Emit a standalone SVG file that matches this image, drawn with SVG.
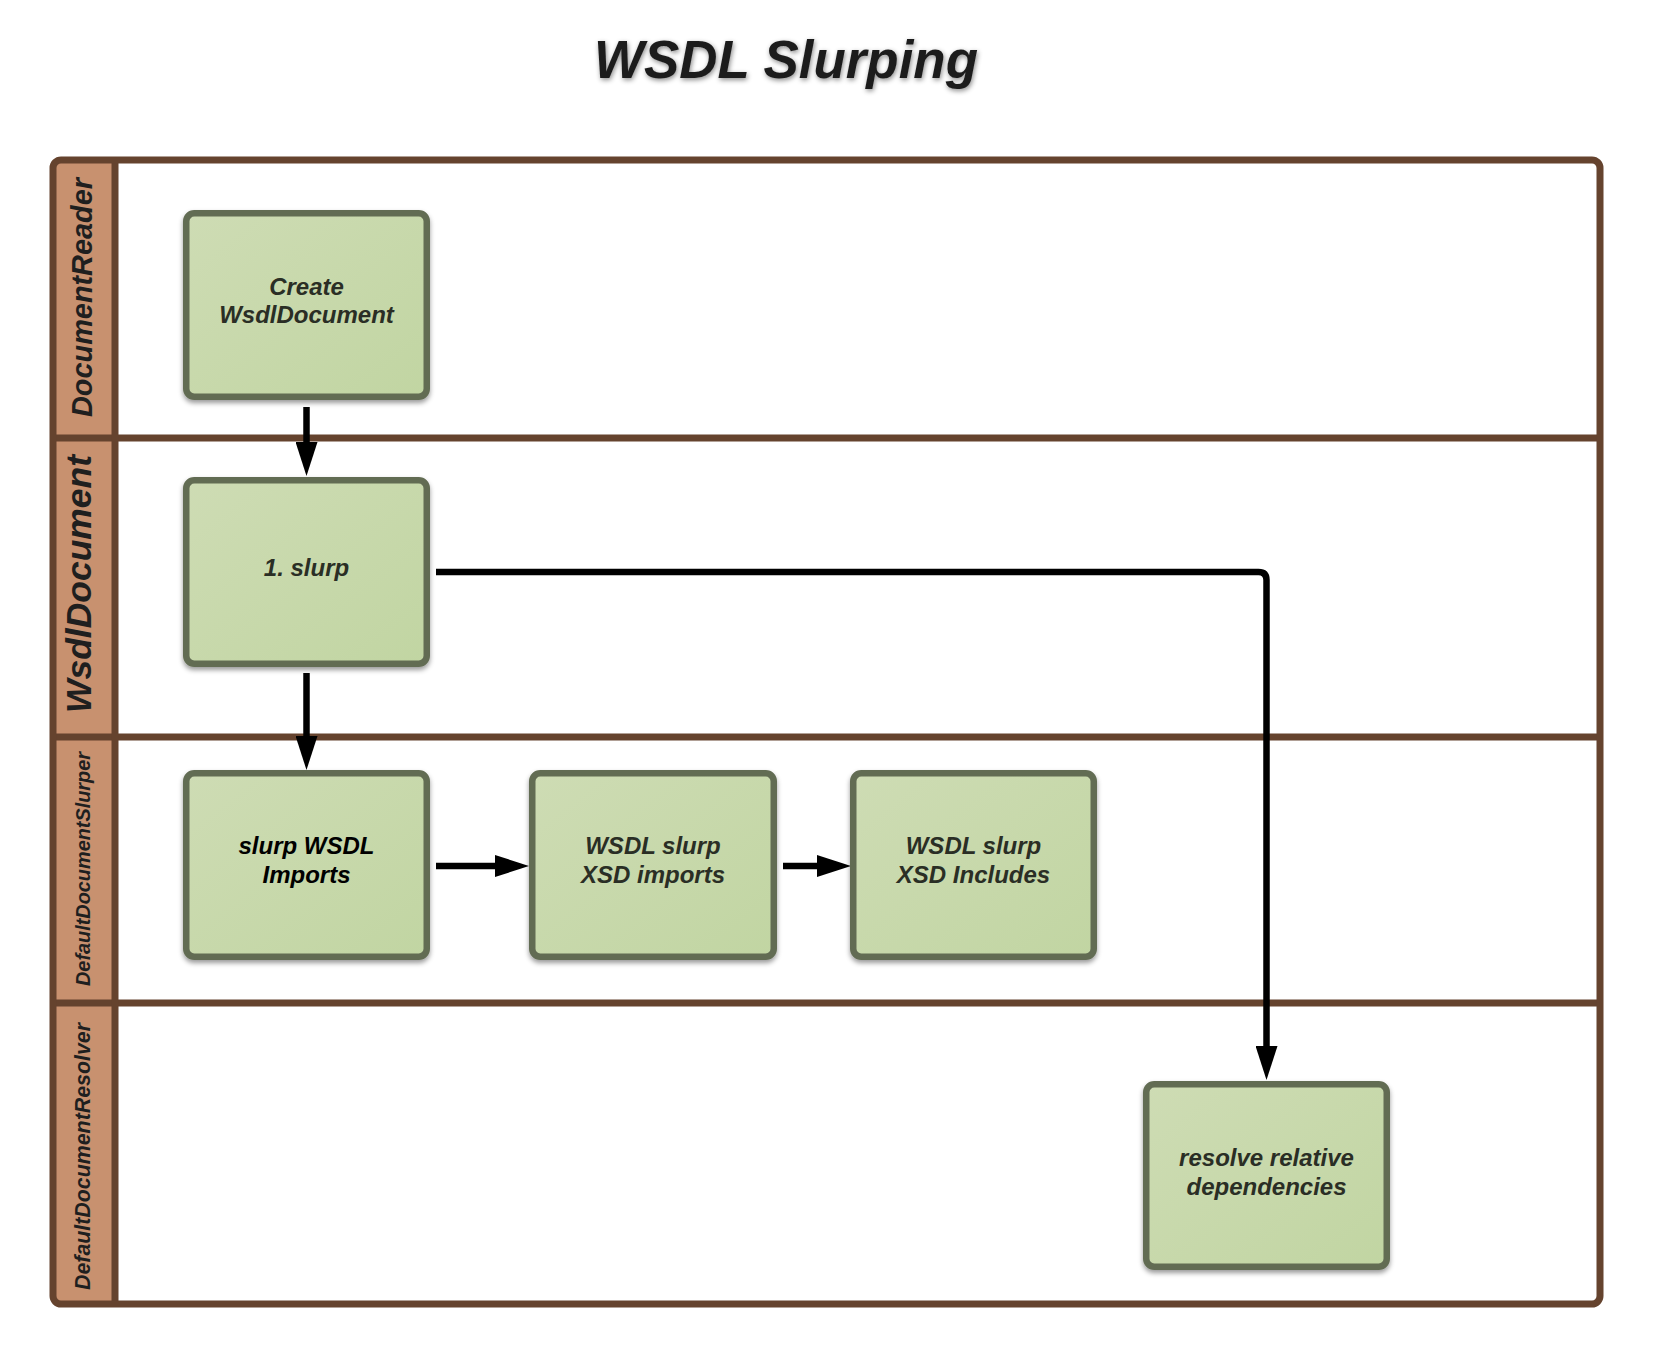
<svg xmlns="http://www.w3.org/2000/svg" width="1655" height="1358" viewBox="0 0 1655 1358">
<style>
.lane{fill:none;stroke:#65432e;stroke-width:7}
.hdr{fill:#c8916f}
.lbl{font-family:"Liberation Sans",Arial,sans-serif;font-weight:bold;font-style:italic;fill:#1f1f1f;text-anchor:middle}
.box{fill:url(#g);stroke:#626c53;stroke-width:6.5;filter:url(#sh)}
.bt{font-family:"Liberation Sans",Arial,sans-serif;font-weight:bold;font-style:italic;font-size:24px;fill:#2a2e25;text-anchor:middle}
.con{fill:none;stroke:#000;stroke-width:6.5;marker-end:url(#ah)}
</style>
<defs>
<linearGradient id="g" x1="0" y1="0" x2="1" y2="1">
<stop offset="0" stop-color="#cedcb4"/>
<stop offset="1" stop-color="#c1d5a2"/>
</linearGradient>
<filter id="sh" x="-10%" y="-10%" width="120%" height="125%">
<feDropShadow dx="0" dy="3" stdDeviation="2.5" flood-color="#000" flood-opacity="0.4"/>
</filter>
<filter id="tsh" x="-10%" y="-30%" width="120%" height="160%">
<feDropShadow dx="1" dy="2" stdDeviation="2.5" flood-color="#000" flood-opacity="0.45"/>
</filter>
<marker id="ah" markerUnits="userSpaceOnUse" markerWidth="34" markerHeight="22" refX="1" refY="11" orient="auto">
<path d="M0,0 L34,11 L0,22 Z" fill="#000"/>
</marker>
</defs>
<rect width="1655" height="1358" fill="#fff"/>
<text x="786" y="78" font-family="Liberation Sans,Arial,sans-serif" font-weight="bold" font-style="italic" font-size="53" fill="#1e1e1e" text-anchor="middle" textLength="384" lengthAdjust="spacingAndGlyphs" filter="url(#tsh)">WSDL Slurping</text>
<g id="pool">
<rect x="53" y="160" width="1547" height="1144" rx="8" fill="#fff"/>
<path class="hdr" d="M61,160 H115 V1304 H61 Q53,1304 53,1296 V168 Q53,160 61,160 Z"/>
<line class="lane" x1="53" y1="438" x2="1600" y2="438"/>
<line class="lane" x1="53" y1="737" x2="1600" y2="737"/>
<line class="lane" x1="53" y1="1003" x2="1600" y2="1003"/>
<line class="lane" x1="115" y1="160" x2="115" y2="1304"/>
<rect class="lane" x="53" y="160" width="1547" height="1144" rx="8" stroke-width="6.5"/>
</g>
<g id="lane-labels">
<text class="lbl" transform="translate(92,297.5) rotate(-90)" font-size="29" textLength="239" lengthAdjust="spacingAndGlyphs">DocumentReader</text>
<text class="lbl" transform="translate(91,584) rotate(-90)" font-size="35" textLength="258" lengthAdjust="spacingAndGlyphs">WsdlDocument</text>
<text class="lbl" transform="translate(89.5,869) rotate(-90)" font-size="20" textLength="234" lengthAdjust="spacingAndGlyphs">DefaultDocumentSlurper</text>
<text class="lbl" transform="translate(89.5,1156.5) rotate(-90)" font-size="22" textLength="267" lengthAdjust="spacingAndGlyphs">DefaultDocumentResolver</text>
</g>
<g id="connectors">
<path class="con" d="M306.5,407 V443"/>
<path class="con" d="M306.5,673 V737"/>
<path class="con" d="M436,866 H496"/>
<path class="con" d="M783,866 H818"/>
<path class="con" d="M436,572 H1258.5 Q1266.5,572 1266.5,580 V1047"/>
</g>
<g id="n1">
<rect class="box" x="186.25" y="213.25" width="240.5" height="183.5" rx="8"/>
<text class="bt" x="306.5" y="295">Create</text>
<text class="bt" x="306.5" y="323">WsdlDocument</text>
</g>
<g id="n2">
<rect class="box" x="186.25" y="480.25" width="240.5" height="183.5" rx="8"/>
<text class="bt" x="306.5" y="576">1. slurp</text>
</g>
<g id="n3">
<rect class="box" x="186.25" y="773.25" width="240.5" height="183.5" rx="8"/>
<text class="bt" x="306.5" y="854" style="fill:#000">slurp WSDL</text>
<text class="bt" x="306.5" y="883" style="fill:#000">Imports</text>
</g>
<g id="n4">
<rect class="box" x="532.25" y="773.25" width="241.5" height="183.5" rx="8"/>
<text class="bt" x="653" y="854">WSDL slurp</text>
<text class="bt" x="653" y="883">XSD imports</text>
</g>
<g id="n5">
<rect class="box" x="853.25" y="773.25" width="240.5" height="183.5" rx="8"/>
<text class="bt" x="973.5" y="854">WSDL slurp</text>
<text class="bt" x="973.5" y="883">XSD Includes</text>
</g>
<g id="n6">
<rect class="box" x="1146.25" y="1084.25" width="240.5" height="182.5" rx="8"/>
<text class="bt" x="1266.5" y="1166">resolve relative</text>
<text class="bt" x="1266.5" y="1195">dependencies</text>
</g>
</svg>
